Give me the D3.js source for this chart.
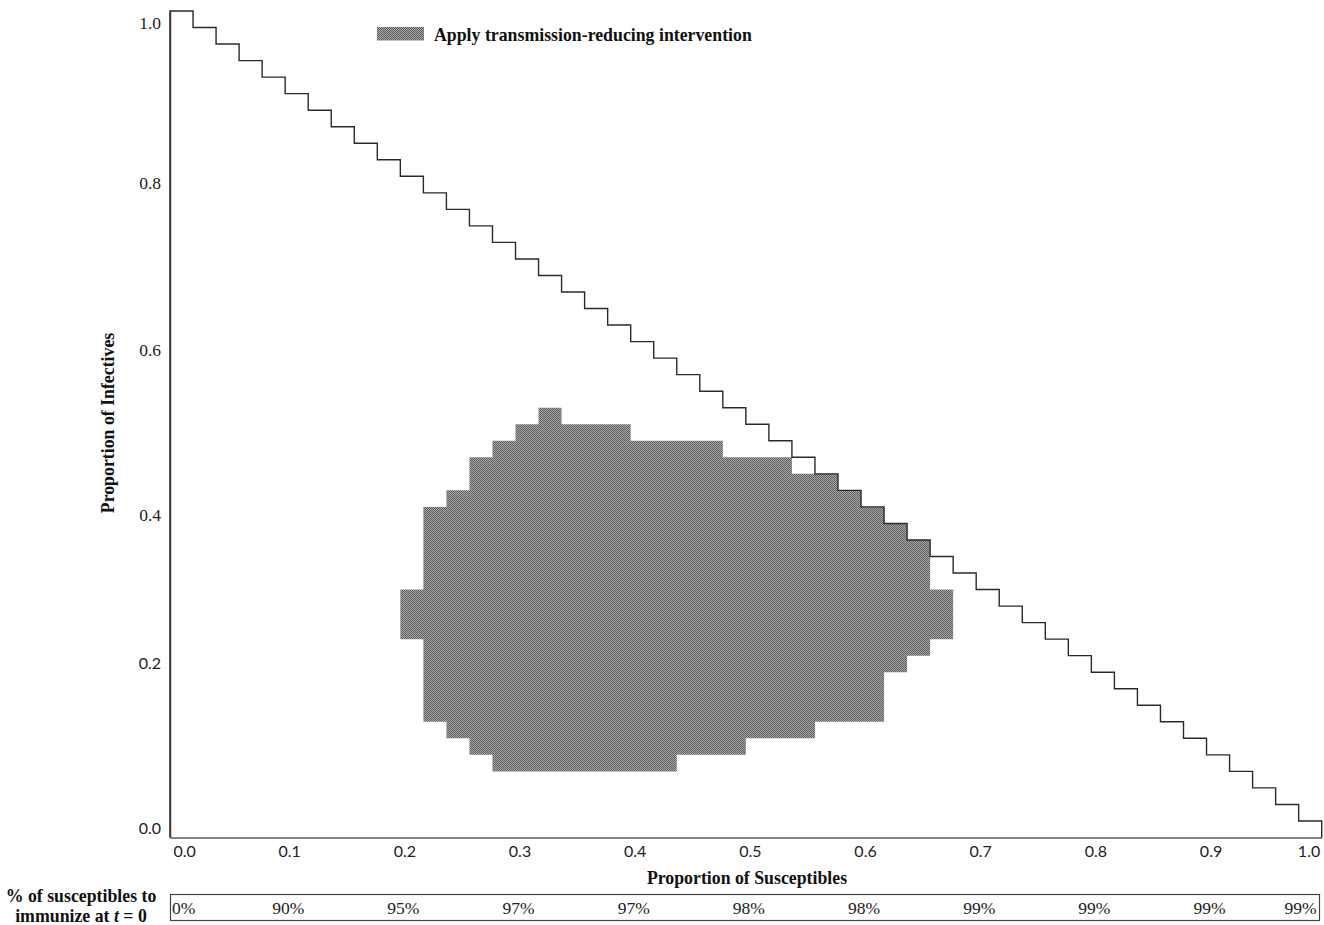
<!DOCTYPE html>
<html>
<head>
<meta charset="utf-8">
<script src="https://cdn.jsdelivr.net/npm/d3@7"></script>
<style>
body {margin:0; background:#fff;}
svg {display:block;}
</style>
</head>
<body>
<svg id="chart" width="1324" height="925"></svg>
<script>
// staircase boundary S+I=1 on the 0.02 grid
var stairS=[0.00,0.02,0.04,0.06,0.08,0.10,0.12,0.14,0.16,0.18,0.20,0.22,0.24,0.26,0.28,0.30,0.32,0.34,0.36,0.38,0.40,0.42,0.44,0.46,0.48,0.50,
    0.52,0.54,0.56,0.58,0.60,0.62,0.64,0.66,0.68,0.70,0.72,0.74,0.76,0.78,0.80,0.82,0.84,0.86,0.88,0.90,0.92,0.94,0.96,0.98,1.00];
var stairI=[1.00,0.98,0.96,0.94,0.92,0.90,0.88,0.86,0.84,0.82,0.80,0.78,0.76,0.74,0.72,0.70,0.68,0.66,0.64,0.62,0.60,0.58,0.56,0.54,0.52,0.50,
    0.48,0.46,0.44,0.42,0.40,0.38,0.36,0.34,0.32,0.30,0.28,0.26,0.24,0.22,0.20,0.18,0.16,0.14,0.12,0.10,0.08,0.06,0.04,0.02,0.00];

// shaded region: one column per susceptible cell (left edge), low/high infective bounds
var cellSize=0.02;
var colS=[0.20,0.22,0.24,0.26,0.28,0.30,0.32,0.34,0.36,0.38,0.40,0.42,0.44,0.46,0.48,0.50,0.52,0.54,0.56,0.58,0.60,0.62,0.64,0.66];
var colLow=[0.24,0.14,0.12,0.10,0.08,0.08,0.08,0.08,0.08,0.08,0.08,0.08,0.10,0.10,0.10,0.12,0.12,0.12,0.14,0.14,0.14,0.20,0.22,0.24];
var colHigh=[0.30,0.40,0.42,0.46,0.48,0.50,0.52,0.50,0.50,0.50,0.48,0.48,0.48,0.48,0.46,0.46,0.46,0.44,0.44,0.42,0.40,0.38,0.36,0.30];

var xTicks=[0,0.1,0.2,0.3,0.4,0.5,0.6,0.7,0.8,0.9,1.0];
var yTicks=[0,0.2,0.4,0.6,0.8,1.0];
var immunizeLabels=['0%','90%','95%','97%','97%','98%','98%','99%','99%','99%','99%'];

var svg=d3.select('#chart');
var serif='"Liberation Serif","Times New Roman",serif';
var sans='Lato,"Open Sans",sans-serif';

var xscale=d3.scaleLinear().domain([0,1]).range([170,1321.7]);
var yscale=d3.scaleLinear().domain([0,1]).range([837.5,11]);

// dithered grey fill
var defs=svg.append('defs');
var pat=defs.append('pattern').attr('id','dither').attr('patternUnits','userSpaceOnUse')
    .attr('width',2).attr('height',2);
pat.append('rect').attr('width',2).attr('height',2).attr('fill','#a6a6a6');
pat.append('rect').attr('x',0).attr('y',0).attr('width',1).attr('height',1).attr('fill','#606060');
pat.append('rect').attr('x',1).attr('y',1).attr('width',1).attr('height',1).attr('fill','#606060');

// region as one path so the columns have no seams
var d='';
for (var i=0; i<colS.length; i++) {
    var x0=xscale(colS[i]), x1=xscale(colS[i]+cellSize);
    var y0=yscale(colLow[i]), y1=yscale(colHigh[i]);
    d+='M'+x0+','+y0+'H'+x1+'V'+y1+'H'+x0+'Z';
}
svg.append('path').attr('d',d).attr('fill','url(#dither)');

// axes
var yaxis=d3.axisLeft(yscale).tickValues(yTicks).tickSize(0).tickSizeOuter(0).tickPadding(9)
    .tickFormat(d3.format('.1f'));
var gy=svg.append('g').attr('transform','translate(170,0)').call(yaxis);
gy.select('.domain').attr('stroke','#5a5a5a').attr('stroke-width',1.6);
// tick labels sit a little off their values in the original figure
var yNudge={'0.0':-9,'0.2':-9,'0.4':8,'0.6':8,'0.8':7,'1.0':12};
gy.selectAll('.tick text').each(function(v) {
    var lab=d3.format('.1f')(v);
    var sansLabel=(v<0.3);
    var fs=sansLabel?16:17.5;
    d3.select(this).attr('fill','#222')
        .attr('dy',(0.32*fs+yNudge[lab])+'px')
        .style('font-family',sansLabel?sans:serif)
        .style('font-size',fs+'px');
});

var xaxis=d3.axisBottom(xscale).tickValues(xTicks).tickSize(0).tickSizeOuter(0).tickPadding(8)
    .tickFormat(d3.format('.1f'));
var gx=svg.append('g').attr('transform','translate(0,837.5)').call(xaxis);
gx.select('.domain').attr('stroke','#5a5a5a').attr('stroke-width',1.6);
gx.selectAll('.tick text').attr('fill','#222').style('font-family',sans).style('font-size','16px')
    .attr('x',4)
    .each(function(v,i) {
        if (i==0) d3.select(this).attr('text-anchor','start').attr('x',3);
        if (i==xTicks.length-1) d3.select(this).attr('text-anchor','end').attr('x',-2);
    });

// staircase S+I=1
var stairData=stairS.map(function(s,i) {return {x:s,y:stairI[i]};});
stairData.unshift({x:0,y:0});
var line=d3.line()
    .x(function(p) {return xscale(p.x);})
    .y(function(p) {return yscale(p.y);})
    .curve(d3.curveStepAfter);
svg.append('path').attr('d',line(stairData))
    .attr('fill','none').attr('stroke','#2a2a2a').attr('stroke-width',1.4);

// axis titles
var titleSize='17.8px';
svg.append('text').attr('x',747).attr('y',884).attr('text-anchor','middle')
    .style('font-family',serif).style('font-weight','bold').style('font-size',titleSize).attr('fill','#111')
    .text('Proportion of Susceptibles');
svg.append('text').attr('transform','translate(114,423) rotate(-90)').attr('text-anchor','middle')
    .style('font-family',serif).style('font-weight','bold').style('font-size',titleSize).attr('fill','#111')
    .text('Proportion of Infectives');

// legend
svg.append('rect').attr('x',377).attr('y',27).attr('width',47).attr('height',13.5).attr('fill','url(#dither)');
svg.append('text').attr('x',434).attr('y',41).style('font-family',serif).style('font-weight','bold')
    .style('font-size',titleSize).attr('fill','#111').text('Apply transmission-reducing intervention');

// table of immunization levels
svg.append('rect').attr('x',170.5).attr('y',894.5).attr('width',1149).attr('height',26)
    .attr('fill','none').attr('stroke','#444').attr('stroke-width',1.2);
svg.selectAll('.imm').data(immunizeLabels).enter().append('text')
    .attr('class','imm')
    .attr('x',function(t,i) {
        if (i==0) return xscale(xTicks[i])+2;
        if (i==xTicks.length-1) return xscale(xTicks[i])-5;
        return xscale(xTicks[i])+3;
    })
    .attr('text-anchor',function(t,i) {return i==0?'start':(i==xTicks.length-1?'end':'middle');})
    .attr('y',914).style('font-family',serif).style('font-size','17.5px').attr('fill','#222')
    .text(function(t) {return t;});

var rowTitle=svg.append('text').attr('text-anchor','middle').style('font-family',serif)
    .style('font-weight','bold').style('font-size',titleSize).attr('fill','#111');
rowTitle.append('tspan').attr('x',81).attr('y',902).text('% of susceptibles to');
var t2=rowTitle.append('tspan').attr('x',81).attr('y',922);
t2.append('tspan').text('immunize at ');
t2.append('tspan').style('font-style','italic').text('t');
t2.append('tspan').text(' = 0');
</script>
</body>
</html>
